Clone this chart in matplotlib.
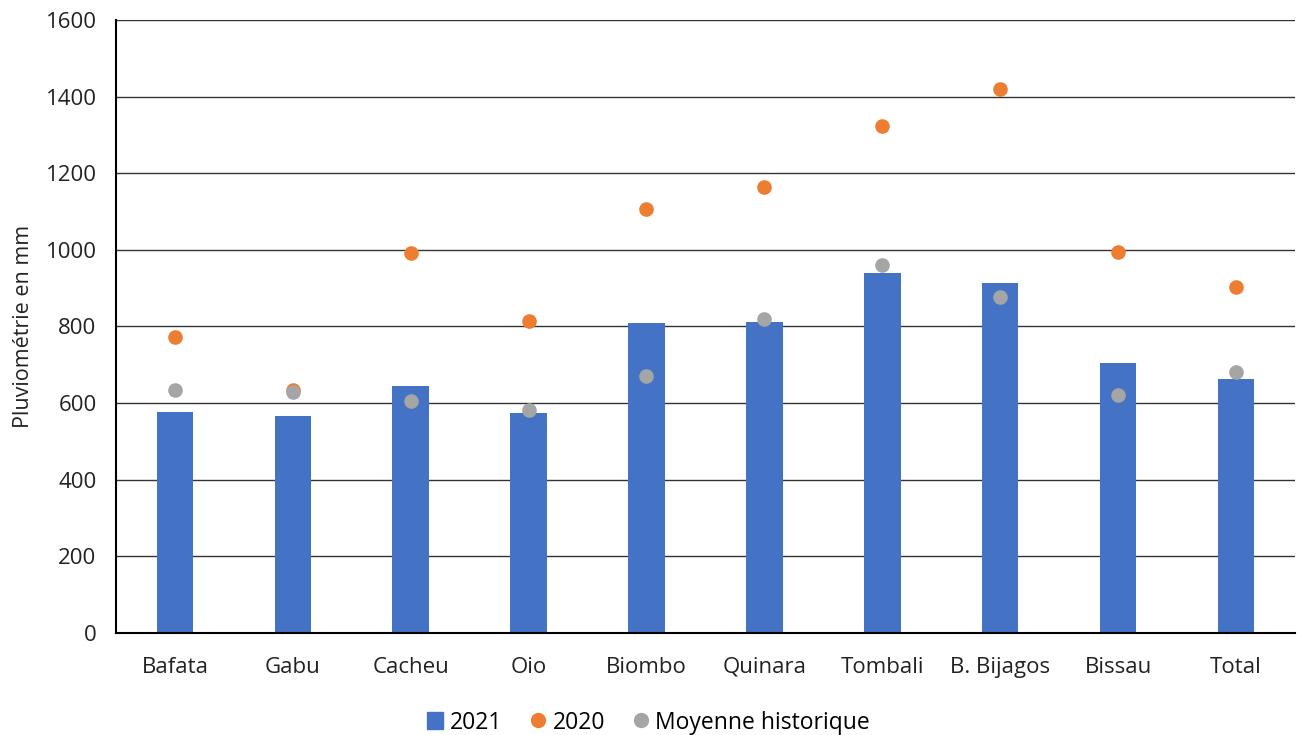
import matplotlib.pyplot as plt
from matplotlib.lines import Line2D
from matplotlib.patches import Patch

regions = ['Bafata', 'Gabu', 'Cacheu', 'Oio', 'Biombo', 'Quinara',
           'Tombali', 'B. Bijagos', 'Bissau', 'Total']
rain_2021 = [577, 566, 645, 573, 808, 811, 939, 913, 706, 664]
rain_2020 = [773, 633, 992, 814, 1107, 1164, 1322, 1420, 994, 904]
moyenne = [634, 628, 606, 582, 670, 819, 960, 876, 621, 680]

plt.rcParams['font.family'] = ['Open Sans', 'DejaVu Sans']

fig = plt.figure(figsize=(12.97, 7.35), dpi=100)
ax = fig.add_axes([0.0894, 0.1388, 0.909, 0.834])

x = range(len(regions))
ax.bar(x, rain_2021, width=0.31, color='#4472C4', zorder=2)
ax.plot(x, rain_2020, 'o', color='#ED7D31', markersize=9.5, zorder=3)
ax.plot(x, moyenne, 'o', color='#A5A5A5', markersize=9.5, zorder=4)

ax.set_xlim(-0.5, len(regions) - 0.5)
ax.set_ylim(0, 1600)
ax.set_yticks(range(0, 1601, 200))
ax.set_xticks(list(x))
ax.set_xticklabels(regions)
ax.grid(axis='y', color='#333333', linewidth=1.0, zorder=0)
ax.set_axisbelow(True)
for s in ['top', 'right']:
    ax.spines[s].set_visible(False)
ax.spines['left'].set_linewidth(1.5)
ax.spines['bottom'].set_linewidth(1.5)
ax.tick_params(axis='both', length=0, labelsize=16, colors='#222222')
ax.tick_params(axis='x', pad=17)
ax.tick_params(axis='y', pad=14)
ax.set_ylabel('Pluviométrie en mm', fontsize=15.5, color='#222222', labelpad=8)

handles = [Patch(color='#4472C4', label='2021'),
           Line2D([], [], marker='o', linestyle='', color='#ED7D31', markersize=10, label='2020'),
           Line2D([], [], marker='o', linestyle='', color='#A5A5A5', markersize=10, label='Moyenne historique')]
fig.legend(handles=handles, loc='center', bbox_to_anchor=(0.5, 0.017), ncol=3,
           frameon=False, fontsize=16.5, handlelength=0.7, handletextpad=0.3, columnspacing=1.2)

fig.savefig('out.png', dpi=100)
